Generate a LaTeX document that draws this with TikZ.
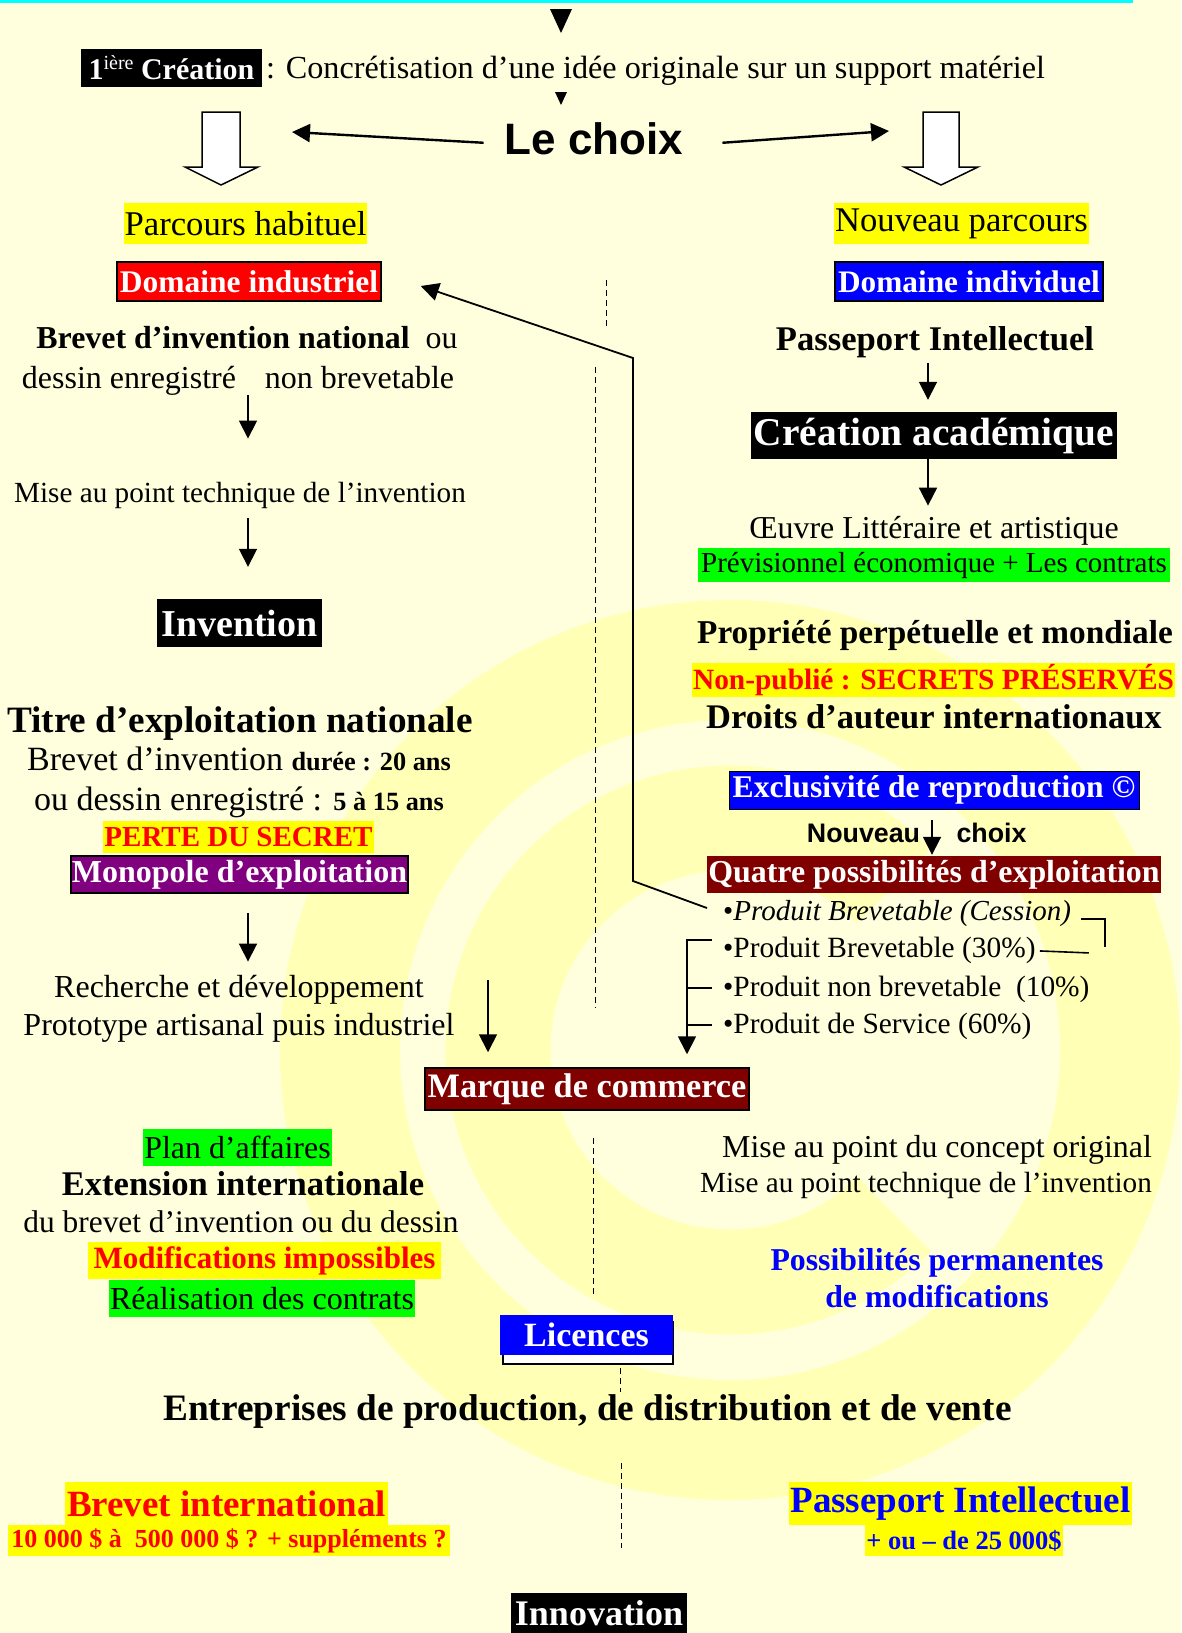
\documentclass[tikz,border=0pt]{standalone}
\usepackage{fontspec}
\setmainfont{Liberation Serif}
\newfontfamily\arialb{Liberation Sans}
\usepackage{tikz}
\usetikzlibrary{arrows.meta,calc}
\newcommand{\fsz}[1]{\fontsize{#1}{#1}\selectfont}
\definecolor{pale}{RGB}{255,255,222}
\definecolor{logoyel}{RGB}{255,255,182}
\definecolor{bordeaux}{RGB}{128,0,0}
\definecolor{monopurple}{RGB}{128,0,128}
\definecolor{vert}{RGB}{0,255,0}
\definecolor{jaune}{RGB}{255,255,0}
\definecolor{bleu}{RGB}{0,0,255}
\definecolor{rouge}{RGB}{255,0,0}
\definecolor{cyanline}{RGB}{0,255,255}

\begin{document}
\begin{tikzpicture}[x=1pt,y=-1pt,
  txt/.style={inner sep=0pt, anchor=base},
  hl/.style={fill=#1, inner xsep=1pt, inner ysep=0pt},
  wbox/.style={fill=#1, text=white, inner xsep=1pt, inner ysep=0pt},
  blackframe/.style={draw=black, line width=1.5pt},
  arr/.style={line width=1.8pt, -{Triangle[length=18pt,width=18pt]}},
  conn/.style={line width=1.6pt},
  divider/.style={line width=0.8pt, dash pattern=on 6pt off 4pt},
  blockarrow/.style={fill=white, draw=black, line width=1.5pt, line join=miter}]
\useasboundingbox (0,0) rectangle (1181,1633);
% fond et logo
\fill[pale] (0,0) rectangle (1181,1633);
\draw[logoyel, line width=120pt] (730,1050) circle (390);
\draw[logoyel, line width=105pt] (730,1050) ++(45:232) arc (45:315:232);
\fill[cyanline] (0,0) rectangle (1133,2.5);
\fill (550,9) -- (572,9) -- (561,33) -- cycle;
\fill (555,92) -- (567,92) -- (561,105) -- cycle;

% haut
\node[wbox=black, minimum width=181, minimum height=38, font=\fsz{30}\bfseries] (crea) at (171.5,68) {1\raisebox{10pt}{\fsz{20}\mdseries ière} Création};
\node[txt, anchor=base west, font=\fsz{32.2}] (concr) at (266,78) {: Concrétisation d’une idée originale sur un support matériel};
\node[txt, font=\arialb\bfseries\fsz{44}] (choix) at (594,154) {Le choix};
\coordinate (tipL) at (292,132);
\coordinate (tipR) at (889,131);
\draw[arr, line width=2.4pt] ([xshift=-21pt,yshift=-4.5pt]choix.west) -- (tipL);
\draw[arr, line width=2.4pt] ([xshift=39pt,yshift=-4.5pt]choix.east) -- (tipR);
\draw[blockarrow] (202,112) -- (240,112) -- (240,167) -- (258,167) -- (221,185) -- (185,167) -- (202,167) -- cycle;
\draw[blockarrow] (923,112) -- (959,112) -- (959,167) -- (978,167) -- (941,185) -- (904,167) -- (923,167) -- cycle;

% colonne gauche
\node[hl=jaune, minimum width=243, minimum height=41, font=\fsz{34.7}] (parcH) at (245.5,223.5) {Parcours habituel};
\node[wbox=rouge, blackframe, minimum width=264, minimum height=39, font=\fsz{31.5}\bfseries] (domInd) at (249,281.5) {Domaine industriel};
\node[txt, font=\fsz{31.9}] (brevN1) at (247,348) {\textbf{Brevet d’invention national}\hspace{0.5em}ou};
\node[txt, font=\fsz{32}] (brevN2) at (238,388) {dessin enregistré\hspace{0.9em}non brevetable};
\node[txt, font=\fsz{29.2}] (miseL) at (240,502) {Mise au point technique de l’invention};
\node[wbox=black, minimum width=165, minimum height=48, font=\fsz{38}\bfseries] (inv) at (239.5,623) {Invention};
\node[txt, font=\fsz{37.2}\bfseries] (titre) at (240,732) {Titre d’exploitation nationale};
\node[txt, font=\fsz{34}] (brevD) at (239,770) {Brevet d’invention {\fsz{26.3}\bfseries durée : 20 ans}};
\node[txt, font=\fsz{34}] (ouD) at (239,810) {ou dessin enregistré : {\fsz{26.3}\bfseries 5 à 15 ans}};
\node[hl=jaune, text=rouge, minimum width=271, minimum height=32, font=\fsz{29}\bfseries] (perte) at (238.5,837) {PERTE DU SECRET};
\node[wbox=monopurple, blackframe, minimum width=335, minimum height=37, font=\fsz{32}\bfseries] (monop) at (239.5,874.5) {Monopole d’exploitation};
\node[txt, font=\fsz{32}] (rech) at (239,997) {Recherche et développement};
\node[txt, font=\fsz{32}] (proto) at (239,1035) {Prototype artisanal puis industriel};
\draw[arr, shorten >=43pt] ([xshift=10pt]brevN2.south) -- ([xshift=8pt]miseL.north);
\draw[arr, shorten <=10pt, shorten >=32pt] ([xshift=8pt]miseL.south) -- ([xshift=8.5pt]inv.north);
\draw[arr, shorten <=19pt, shorten >=13pt] ([xshift=8.5pt]monop.south) -- ([xshift=9pt]rech.north);

% colonne droite
\node[hl=jaune, minimum width=253, minimum height=41, font=\fsz{34.6}] (nouvP) at (961.5,223.5) {Nouveau parcours};
\node[wbox=bleu, blackframe, minimum width=268, minimum height=39, font=\fsz{31.3}\bfseries] (domIndiv) at (969,281.5) {Domaine individuel};
\node[txt, font=\fsz{34.6}\bfseries] (passU) at (935,350) {Passeport Intellectuel};
\node[wbox=black, minimum width=366, minimum height=47, font=\fsz{39.4}\bfseries] (creaA) at (934,435.5) {Création académique};
\node[txt, font=\fsz{31.9}] (oeuvre) at (934,538) {Œuvre Littéraire et artistique};
\node[hl=vert, minimum width=472, minimum height=34, font=\fsz{29}] (previs) at (934,565) {Prévisionnel économique + Les contrats};
\node[txt, font=\fsz{33.3}\bfseries] (propr) at (935,643) {Propriété perpétuelle et mondiale};
\node[hl=jaune, text=rouge, minimum width=479, minimum height=34, font=\fsz{29.4}\bfseries] (nonpub) at (933.5,680) {Non-publié : SECRETS PRÉSERVÉS};
\node[txt, font=\fsz{34.5}\bfseries] (droits) at (934,728) {Droits d’auteur internationaux};
\node[wbox=bleu, draw=black, line width=0.8pt, minimum width=410, minimum height=38, font=\fsz{31.6}\bfseries] (excl) at (934,790) {Exclusivité de reproduction ©};
\node[txt, font=\arialb\bfseries\fsz{26.8}] (nouv) at (863.5,842) {Nouveau};
\node[txt, font=\arialb\bfseries\fsz{26.8}] (choixB) at (991.5,842) {choix};
\node[wbox=bordeaux, minimum width=452, minimum height=37, font=\fsz{31.9}\bfseries] (quatre) at (934,874.5) {Quatre possibilités d’exploitation};
\node[txt, anchor=base west, font=\fsz{29}] (cess) at (723,920) {•\textit{Produit Brevetable (Cession)}};
\node[txt, anchor=base west, font=\fsz{29.4}] (p30) at (723,957) {•Produit Brevetable (30\%)};
\node[txt, anchor=base west, font=\fsz{29.4}] (p10) at (723,996) {•Produit non brevetable\hspace{0.5em}(10\%)};
\node[txt, anchor=base west, font=\fsz{29.4}] (p60) at (723,1033) {•Produit de Service (60\%)};
\draw[arr, shorten <=5pt, shorten >=12pt] ([xshift=-7pt]passU.south) -- ([xshift=-6pt]creaA.north);
\draw[arr, shorten >=10pt] ([xshift=-6pt]creaA.south) -- ([xshift=-6pt]oeuvre.north);
\draw[arr, shorten <=11pt, shorten >=1pt] ([xshift=-2pt]excl.south) -- ([xshift=-2pt]quatre.north);

% centre
\node[wbox=bordeaux, blackframe, minimum width=324, minimum height=42, font=\fsz{34.3}\bfseries] (marque) at (587,1089) {Marque de commerce};
\coordinate (bendA) at (633,881);
\coordinate (bendB) at (633,358);
\draw[arr] ([xshift=-16pt,yshift=5pt]cess.west) -- (bendA) -- (bendB) -- ([xshift=39pt,yshift=-4.5pt]domInd.east);
\draw[conn] ([xshift=10pt,yshift=-6pt]cess.east) -| ([xshift=34pt,yshift=-34pt]cess.east);
\draw[conn] ([xshift=4pt,yshift=-1pt]p30.east) -- ([xshift=53pt,yshift=-3pt]p30.east);
\draw[arr, shorten >=13pt] ([xshift=-11pt,yshift=10pt]p30.west) -- ([xshift=-36pt,yshift=10pt]p30.west) -- ([xshift=-36pt]p30.west |- marque.north);
\draw[conn] ([xshift=-11pt,yshift=1pt]p10.west) -- ([xshift=-36pt,yshift=1pt]p10.west);
\draw[conn] ([xshift=-11pt,yshift=1pt]p60.west) -- ([xshift=-36pt,yshift=1pt]p60.west);
\coordinate (a4) at (488,980);
\draw[arr, shorten >=15pt] (a4) -- (a4 |- marque.north);
\draw[divider] (606,280) -- (606,328);
\draw[divider] (595,367) -- (595,1008);

% bas
\node[hl=vert, minimum width=187, minimum height=37, font=\fsz{31.9}] (plan) at (237.5,1147.5) {Plan d’affaires};
\node[txt, font=\fsz{34.6}\bfseries] (ext) at (243,1195) {Extension internationale};
\node[txt, font=\fsz{31.4}] (dubrev) at (241,1232) {du brevet d’invention ou du dessin};
\node[hl=jaune, text=rouge, minimum width=353, minimum height=37, font=\fsz{31}\bfseries] (modif) at (264.5,1260.5) {Modifications impossibles};
\node[hl=vert, minimum width=304, minimum height=37, font=\fsz{32}] (real) at (262,1298.5) {Réalisation des contrats};
\node[txt, font=\fsz{31.9}] (miseC) at (937,1157) {Mise au point du concept original};
\node[txt, font=\fsz{29.2}] (miseT) at (926,1192) {Mise au point technique de l’invention};
\node[txt, text=bleu, font=\fsz{31.8}\bfseries] (possib) at (937,1270) {Possibilités permanentes};
\node[txt, text=bleu, font=\fsz{31.8}\bfseries] (demod) at (937,1307) {de modifications};
\draw[divider] (593,1138) -- (593,1297);
\draw[fill=white, line width=1.5pt] (503,1322) rectangle (673,1364);
\node[wbox=bleu, minimum width=173, minimum height=40, font=\fsz{34}\bfseries] (lic) at (586.5,1335) {Licences};
\draw[divider] (620,1368) -- (620,1392);
\node[txt, font=\fsz{37.3}\bfseries] (entre) at (587.5,1420) {Entreprises de production, de distribution et de vente};
\draw[divider] (621,1463) -- (621,1548);
\node[hl=jaune, text=rouge, minimum width=323, minimum height=43, font=\fsz{37}\bfseries] (brevI) at (226.5,1503.5) {Brevet international};
\node[hl=jaune, text=rouge, minimum width=442, minimum height=31, font=\fsz{26}\bfseries] (prix) at (229,1540.5) {10 000 \$ à\hspace{0.5em}500 000 \$ ? + suppléments ?};
\node[hl=jaune, text=bleu, minimum width=343, minimum height=43, font=\fsz{37}\bfseries] (passB) at (960.5,1503.5) {Passeport Intellectuel};
\node[hl=jaune, text=bleu, minimum width=196, minimum height=31, font=\fsz{26.5}\bfseries] (moins) at (964,1540.5) {+ ou – de 25 000\$};
\node[wbox=black, minimum width=176, minimum height=40, font=\fsz{36}\bfseries] (innov) at (599,1613) {Innovation};
\end{tikzpicture}
\end{document}
